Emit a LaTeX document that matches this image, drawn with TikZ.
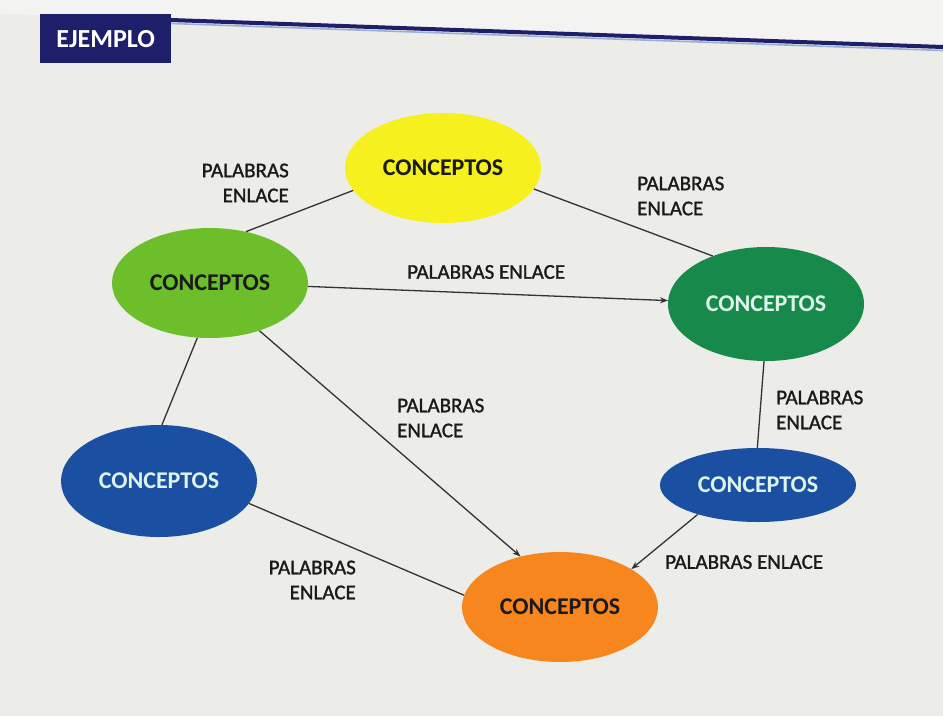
\documentclass[tikz,border=0pt]{standalone}
\usepackage{fontspec}
\setmainfont{Carlito}
\newfontfamily\labelfont[FakeBold=1.3]{Carlito}
\usetikzlibrary{arrows.meta,shapes.geometric}
\definecolor{bgpage}{HTML}{ECECE9}
\definecolor{bgtop}{HTML}{F3F3F1}
\definecolor{navy}{HTML}{1D1F6B}
\definecolor{cyellow}{HTML}{F6F01E}
\definecolor{clgreen}{HTML}{6CBE2B}
\definecolor{cdgreen}{HTML}{17894A}
\definecolor{cblue}{HTML}{1B4FA2}
\definecolor{corange}{HTML}{F7861E}
\definecolor{darktxt}{HTML}{1A1A1A}
\definecolor{lighttxt}{HTML}{DDF4EC}
\definecolor{linec}{HTML}{333333}
\tikzset{
  concept/.style={ellipse, minimum width=196pt, minimum height=110pt, inner sep=0pt,
    font=\fontsize{24}{26}\selectfont\bfseries},
  lbl/.style={font=\labelfont\fontsize{21}{25}\selectfont, text=darktxt, inner sep=0pt},
  conn/.style={draw=linec, line width=1.3pt},
  arr/.style={conn, -{Stealth[length=8pt,width=6pt]}}
}
\begin{document}
\begin{tikzpicture}[x=1pt,y=-1pt]
\useasboundingbox (0,0) rectangle (943,716);
\fill[bgpage] (0,0) rectangle (943,716);
\fill[bgtop] (0,0) -- (943,0) -- (943,46) -- (171,18) -- (0,14) -- cycle;
% header
\node[fill=navy, text=white, font=\fontsize{26}{28}\selectfont\bfseries,
  minimum width=131pt, minimum height=49pt, inner sep=0pt, anchor=north west] (hdr) at (40,14) {EJEMPLO};
\coordinate (linestart) at (171,20);
\coordinate (lineend) at (943,47);
\draw[navy, line width=4pt] (linestart) -- (lineend);
\draw[cblue!45, line width=1.6pt] ([yshift=-3.5pt]linestart) -- ([yshift=-3.5pt]lineend);
% concepts
\node[concept, fill=cyellow, text=darktxt] (yel) at (443,168) {CONCEPTOS};
\node[concept, fill=clgreen, text=darktxt] (lgr) at (210,283) {CONCEPTOS};
\node[concept, fill=cdgreen, text=lighttxt, minimum height=114pt] (dgr) at (766,304) {CONCEPTOS};
\node[concept, fill=cblue, text=lighttxt, minimum height=112pt] (bll) at (159,481) {CONCEPTOS};
\node[concept, fill=cblue, text=lighttxt, minimum height=74pt] (blr) at (758,485) {CONCEPTOS};
\node[concept, fill=corange, text=darktxt] (ora) at (560,607) {CONCEPTOS};
% connectors
\draw[conn] (lgr.55) -- (yel.194);
\draw[conn] (yel.-13) -- (dgr.138);
\draw[arr] (lgr.-2) -- (dgr.178);
\draw[conn] (lgr.-103) -- (bll.87);
\draw[arr] (lgr.-44) -- (ora.128);
\draw[conn] (dgr.-92) -- (blr.91);
\draw[arr] (blr.-154) -- (ora.28);
\draw[conn] (bll.-14) -- (ora.173);
% labels
\node[lbl, align=right, anchor=east] (l1) at (289,183) {PALABRAS\\ENLACE};
\node[lbl, align=left, anchor=west] (l2) at (637,196) {PALABRAS\\ENLACE};
\node[lbl, anchor=west] (l3) at (407,272) {PALABRAS ENLACE};
\node[lbl, align=left, anchor=west] (l4) at (397,418) {PALABRAS\\ENLACE};
\node[lbl, align=left, anchor=west] (l5) at (776,410) {PALABRAS\\ENLACE};
\node[lbl, anchor=west] (l6) at (665,562) {PALABRAS ENLACE};
\node[lbl, align=right, anchor=east] (l7) at (356,580) {PALABRAS\\ENLACE};
\end{tikzpicture}
\end{document}
